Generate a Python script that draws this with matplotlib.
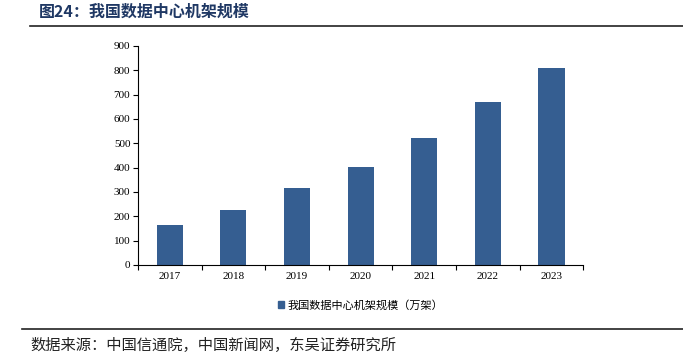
import numpy as np
import matplotlib.pyplot as plt
from matplotlib.lines import Line2D
from matplotlib.patches import Patch

plt.rcParams['font.family'] = ['Liberation Serif', 'Noto Sans CJK SC']

years = ['2017', '2018', '2019', '2020', '2021', '2022', '2023']
racks = [166, 226, 315, 401, 520, 670, 810]
bar_color = '#355E91'

fig = plt.figure(figsize=(6.83, 3.64), dpi=100)
ax = fig.add_axes([0.202, 0.272, 0.652, 0.602])

x = np.arange(len(years))
ax.bar(x, racks, width=0.41, color=bar_color, zorder=2)

ax.set_xlim(-0.5, len(years) - 0.5)
ax.set_ylim(0, 900)
ax.set_yticks(range(0, 901, 100))
ax.set_xticks(x)
ax.set_xticklabels(years)
ax.set_xticks(np.arange(-0.5, len(years), 1), minor=True)
ax.tick_params(axis='x', which='major', length=0, labelsize=8, pad=5)
ax.tick_params(axis='x', which='minor', length=3.5, direction='out', width=0.8)
ax.tick_params(axis='y', length=3.5, direction='out', width=0.8, labelsize=8, pad=2)
for s in ['top', 'right']:
    ax.spines[s].set_visible(False)
for s in ['left', 'bottom']:
    ax.spines[s].set_linewidth(0.8)

leg = ax.legend(handles=[Patch(color=bar_color, label='我国数据中心机架规模（万架）')],
                loc='center', bbox_to_anchor=(0.5, -0.183), frameon=False,
                prop={'family': 'Noto Sans CJK SC', 'size': 8},
                handlelength=0.6, handleheight=0.6, handletextpad=0.3)

# title and lines
fig.text(0.057, 0.967, '图24：我国数据中心机架规模', fontsize=11.5, fontweight='bold',
         color='#1F3864', family=['Noto Sans CJK SC'], va='center')
fig.add_artist(Line2D([0.044, 1.0], [0.928, 0.928], color='#222222', lw=1.2))
fig.add_artist(Line2D([0.032, 1.0], [0.096, 0.096], color='#222222', lw=1.2))
fig.text(0.044, 0.05, '数据来源：中国信通院，中国新闻网，东吴证券研究所', fontsize=11,
         color='#222222', family=['Noto Sans CJK SC'], va='center')

fig.savefig('out.png', dpi=100)
